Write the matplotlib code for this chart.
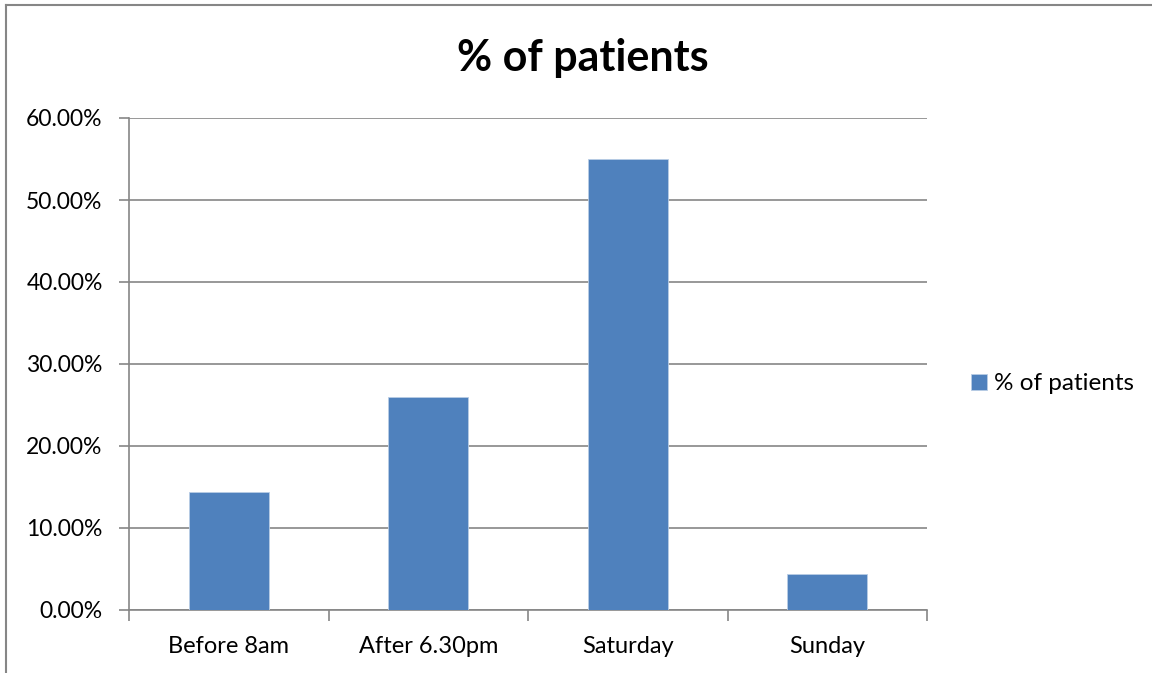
import matplotlib.pyplot as plt
from matplotlib.lines import Line2D
from matplotlib.ticker import FuncFormatter

categories = ["Before 8am", "After 6.30pm", "Saturday", "Sunday"]
values = [14.45, 26.0, 55.0, 4.35]
series_name = "% of patients"

plt.rcParams["font.family"] = ["Lato", "DejaVu Sans"]

fig = plt.figure(figsize=(11.52, 6.73), dpi=100)
ax = fig.add_axes([129 / 1152, 1 - 610 / 673, 798 / 1152, 492 / 673])

grey = "#868686"
ax.bar(range(len(categories)), values, width=0.4, color="#4F81BD",
       edgecolor="#B9CDE5", linewidth=0.6, label=series_name, zorder=3)

ax.set_xlim(-0.5, len(categories) - 0.5)
ax.set_ylim(0, 60)
ax.set_yticks(range(0, 61, 10))
ax.yaxis.set_major_formatter(FuncFormatter(lambda v, p: f"{v:.2f}%"))
ax.set_xticks(range(len(categories)))
ax.set_xticklabels(categories)
ax.set_xticks([i - 0.5 for i in range(len(categories) + 1)], minor=True)

ax.grid(axis="y", color=grey, linewidth=1.2, zorder=0)
ax.tick_params(axis="x", which="major", length=0, pad=19, labelsize=17)
ax.tick_params(axis="x", which="minor", length=8, color=grey, width=1.2)
ax.tick_params(axis="y", length=7, color=grey, width=1.2, pad=12, labelsize=16.5)
for s in ["top", "right"]:
    ax.spines[s].set_visible(False)
for s in ["left", "bottom"]:
    ax.spines[s].set_color(grey)
    ax.spines[s].set_linewidth(1.2)

fig.text(583 / 1152, 1 - 58 / 673, "% of patients", ha="center", va="center",
         fontsize=31, fontweight="bold")

ax.legend(loc="center left", bbox_to_anchor=(959 / 1152, 1 - 384 / 673),
          bbox_transform=fig.transFigure, frameon=False, fontsize=17.5,
          handlelength=0.64, handleheight=0.64, handletextpad=0.3, borderpad=0)

# outer chart border (left and top visible)
fig.add_artist(Line2D([6 / 1152, 6 / 1152], [0, 1 - 5 / 673],
                      transform=fig.transFigure, color=grey, linewidth=1.5))
fig.add_artist(Line2D([6 / 1152, 1], [1 - 5 / 673, 1 - 5 / 673],
                      transform=fig.transFigure, color=grey, linewidth=1.5))

fig.savefig("out.png", dpi=100)
